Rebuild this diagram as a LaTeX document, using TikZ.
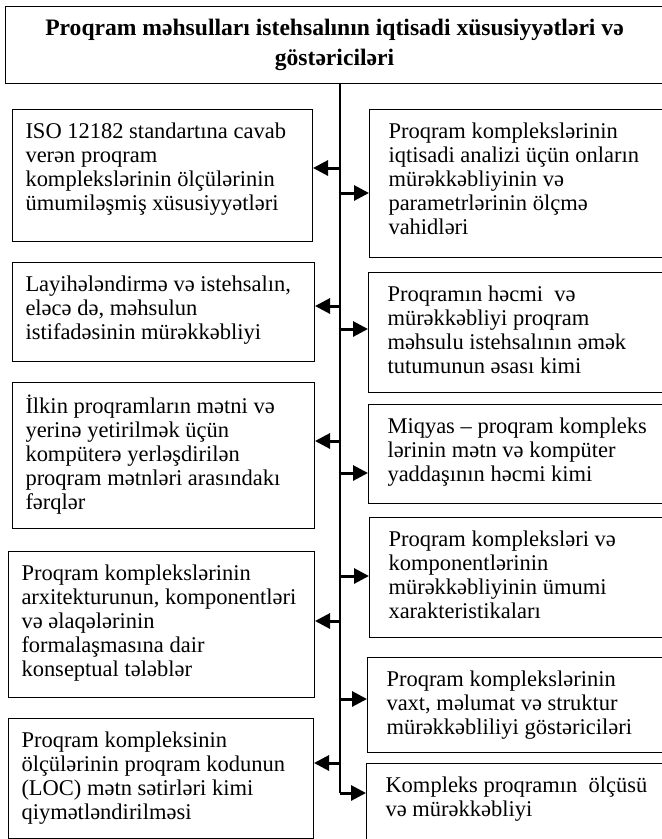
\documentclass[tikz,border=0pt]{standalone}
\usepackage{fontspec}
\setmainfont{Liberation Serif}
\usetikzlibrary{arrows.meta,scopes}

\newcommand{\boxtext}[3]{\parbox[t][#2pt][t]{#1pt}{\raggedright\strut #3}}

\begin{document}
\begin{tikzpicture}[x=1pt,y=-1pt,
  headbox/.style={draw,line width=1pt,anchor=north west,inner sep=0pt,align=center,
                  font=\bfseries\fontsize{23.6}{30}\selectfont},
  lbox/.style={draw,line width=1pt,anchor=north west,inner xsep=13pt,inner ysep=12pt,
               font=\fontsize{22.5}{24}\selectfont},
  rbox/.style={lbox,inner xsep=19pt},
  trunk/.style={line width=1.2pt},
  stub/.style={line width=3pt,-{Triangle[length=15pt,width=15pt]}}]
\useasboundingbox (0,0) rectangle (662,839);

\path node[headbox,minimum width=658pt,minimum height=77pt] (head) at (5,6)
        {Proqram məhsulları istehsalının iqtisadi xüsusiyyətləri və\\ göstəriciləri}
      node[lbox] (lb1) at (12,109) {\boxtext{274}{108}{ISO 12182 standartına cavab\\
        verən proqram\\ komplekslərinin ölçülərinin\\ ümumiləşmiş xüsusiyyətləri}}
      node[lbox] (lb2) at (12,262) {\boxtext{276}{75}{Layihələndirmə və istehsalın,\\
        eləcə də, məhsulun\\ istifadəsinin mürəkkəbliyi}}
      node[lbox] (lb3) at (12,382) {\boxtext{276}{122}{İlkin proqramların mətni və\\
        yerinə yetirilmək üçün\\ kompüterə yerləşdirilən\\ proqram mətnləri arasındakı\\ fərqlər}}
      node[lbox] (lb4) at (8,551)  {\boxtext{280}{122}{Proqram komplekslərinin\\
        arxitekturunun, komponentləri\\ və əlaqələrinin\\ formalaşmasına dair\\ konseptual tələblər}}
      node[lbox] (lb5) at (8,718)  {\boxtext{279}{96}{Proqram kompleksinin\\
        ölçülərinin proqram kodunun\\ (LOC) mətn sətirləri kimi\\ qiymətləndirilməsi}}
      node[rbox] (rb1) at (369,109) {\boxtext{263}{124}{Proqram komplekslərinin\\
        iqtisadi analizi üçün onların\\ mürəkkəbliyinin və\\ parametrlərinin ölçmə\\ vahidləri}}
      node[rbox] (rb2) at (368,272) {\boxtext{264}{96}{Proqramın həcmi\ \ və\\
        mürəkkəbliyi proqram\\ məhsulu istehsalının əmək\\ tutumunun əsası kimi}}
      node[rbox] (rb3) at (368,404) {\boxtext{264}{75}{Miqyas -- proqram kompleks\\
        lərinin mətn və kompüter\\ yaddaşının həcmi kimi}}
      node[rbox] (rb4) at (369,517) {\boxtext{263}{96}{Proqram kompleksləri və\\
        komponentlərinin\\ mürəkkəbliyinin ümumi\\ xarakteristikaları}}
      node[rbox] (rb5) at (367,657) {\boxtext{265}{71}{Proqram komplekslərinin\\
        vaxt, məlumat və struktur\\ mürəkkəbliliyi göstəriciləri}}
      node[rbox] (rb6) at (366,763) {\boxtext{266}{73}{Kompleks proqramın\ \ ölçüsü\\
        və mürəkkəbliyi}};

\coordinate (tl1) at (340,168);
\coordinate (tl2) at (340,306);
\coordinate (tl3) at (340,441);
\coordinate (tl4) at (340,621);
\coordinate (tl5) at (340,763);
\coordinate (tr1) at (340,193);
\coordinate (tr2) at (340,329);
\coordinate (tr3) at (340,473);
\coordinate (tr4) at (340,576);
\coordinate (tr5) at (340,699);
\coordinate (tend) at (340,793);

\draw[trunk] (head.south -| tend) -- (tend);
{[stub]
 \draw (tl1) -- (tl1 -| lb1.east);
 \draw (tl2) -- (tl2 -| lb2.east);
 \draw (tl3) -- (tl3 -| lb3.east);
 \draw (tl4) -- (tl4 -| lb4.east);
 \draw (tl5) -- (tl5 -| lb5.east);
 \draw (tr1) -- (tr1 -| rb1.west);
 \draw (tr2) -- (tr2 -| rb2.west);
 \draw (tr3) -- (tr3 -| rb3.west);
 \draw (tr4) -- (tr4 -| rb4.west);
 \draw (tr5) -- (tr5 -| rb5.west);
 \draw (tend) -- (tend -| rb6.west);
}
\end{tikzpicture}
\end{document}
